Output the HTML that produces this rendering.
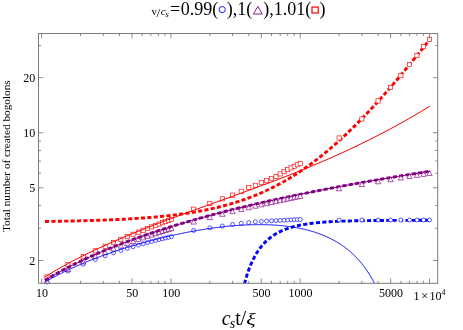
<!DOCTYPE html>
<html><head><meta charset="utf-8"><title>plot</title>
<style>
html,body{margin:0;padding:0;background:#fff;}
body{width:463px;height:330px;overflow:hidden;}
svg{display:block;will-change:transform;}
text{font-family:"Liberation Serif",serif;fill:#000;}
</style></head><body>
<svg width="463" height="330" viewBox="0 0 463 330">
<rect width="463" height="330" fill="#fff"/>
<defs><clipPath id="c"><rect x="38.5" y="33.5" width="399.2" height="249.8"/></clipPath></defs>
<g clip-path="url(#c)" fill="none">
<path d="M243.00,289.97 L243.50,287.80 L244.00,285.72 L244.50,283.74 L245.00,281.84 L245.50,280.02 L246.00,278.28 L246.50,276.61 L247.00,275.01 L247.50,273.46 L248.00,271.98 L248.50,270.55 L249.00,269.18 L249.50,267.85 L250.00,266.58 L250.50,265.34 L251.00,264.15 L251.50,263.00 L252.00,261.89 L252.50,260.82 L253.00,259.78 L253.50,258.78 L254.00,257.80 L254.50,256.86 L255.00,255.95 L255.50,255.06 L256.00,254.20 L256.50,253.37 L257.00,252.56 L257.50,251.78 L258.00,251.02 L258.50,250.28 L259.00,249.57 L259.50,248.87 L260.00,248.19 L260.50,247.53 L261.00,246.89 L261.50,246.27 L262.00,245.66 L262.50,245.08 L263.00,244.50 L263.50,243.94 L264.00,243.40 L264.50,242.87 L265.00,242.36 L265.50,241.86 L266.00,241.37 L266.50,240.89 L267.00,240.43 L267.50,239.98 L268.00,239.54 L268.50,239.11 L269.00,238.69 L269.50,238.28 L270.00,237.88 L270.50,237.49 L271.00,237.11 L271.50,236.74 L272.00,236.38 L272.50,236.03 L273.00,235.69 L273.50,235.35 L274.00,235.02 L274.50,234.70 L275.00,234.39 L275.50,234.09 L276.00,233.79 L276.50,233.50 L277.00,233.22 L277.50,232.94 L278.00,232.67 L278.50,232.40 L279.00,232.14 L279.50,231.89 L280.00,231.65 L280.50,231.40 L281.00,231.17 L281.50,230.94 L282.00,230.71 L282.50,230.49 L283.00,230.28 L283.50,230.07 L284.00,229.86 L284.50,229.66 L285.00,229.46 L285.50,229.27 L286.00,229.08 L286.50,228.90 L287.00,228.72 L287.50,228.54 L288.00,228.37 L288.50,228.20 L289.00,228.04 L289.50,227.88 L290.00,227.72 L290.50,227.57 L291.00,227.42 L291.50,227.27 L292.00,227.12 L292.50,226.98 L293.00,226.85 L293.50,226.71 L294.00,226.58 L294.50,226.45 L295.00,226.32 L295.50,226.20 L296.00,226.08 L296.50,225.96 L297.00,225.84 L297.50,225.73 L298.00,225.62 L298.50,225.51 L299.00,225.40 L299.50,225.30 L300.00,225.19 L300.50,225.09 L301.00,225.00 L301.50,224.90 L302.00,224.81 L302.50,224.71 L303.00,224.62 L303.50,224.54 L304.00,224.45 L304.50,224.36 L305.00,224.28 L305.50,224.20 L306.00,224.12 L306.50,224.04 L307.00,223.97 L307.50,223.89 L308.00,223.82 L308.50,223.75 L309.00,223.68 L309.50,223.61 L310.00,223.54 L310.50,223.48 L311.00,223.41 L311.50,223.35 L312.00,223.29 L312.50,223.23 L313.00,223.17 L313.50,223.11 L314.00,223.05 L314.50,223.00 L315.00,222.94 L315.50,222.89 L316.00,222.84 L316.50,222.78 L317.00,222.73 L317.50,222.68 L318.00,222.64 L318.50,222.59 L319.00,222.54 L319.50,222.50 L320.00,222.45 L320.50,222.41 L321.00,222.37 L321.50,222.32 L322.00,222.28 L322.50,222.24 L323.00,222.20 L323.50,222.17 L324.00,222.13 L324.50,222.09 L325.00,222.06 L325.50,222.02 L326.00,221.98 L326.50,221.95 L327.00,221.92 L327.50,221.88 L328.00,221.85 L328.50,221.82 L329.00,221.79 L329.50,221.76 L330.00,221.73 L330.50,221.70 L331.00,221.67 L331.50,221.65 L332.00,221.62 L332.50,221.59 L333.00,221.57 L333.50,221.54 L334.00,221.51 L334.50,221.49 L335.00,221.47 L335.50,221.44 L336.00,221.42 L336.50,221.40 L337.00,221.37 L337.50,221.35 L338.00,221.33 L338.50,221.31 L339.00,221.29 L339.50,221.27 L340.00,221.25 L340.50,221.23 L341.00,221.21 L341.50,221.19 L342.00,221.17 L342.50,221.16 L343.00,221.14 L343.50,221.12 L344.00,221.11 L344.50,221.09 L345.00,221.07 L345.50,221.06 L346.00,221.04 L346.50,221.03 L347.00,221.01 L347.50,221.00 L348.00,220.98 L348.50,220.97 L349.00,220.96 L349.50,220.94 L350.00,220.93 L350.50,220.92 L351.00,220.90 L351.50,220.89 L352.00,220.88 L352.50,220.87 L353.00,220.86 L353.50,220.84 L354.00,220.83 L354.50,220.82 L355.00,220.81 L355.50,220.80 L356.00,220.79 L356.50,220.78 L357.00,220.77 L357.50,220.76 L358.00,220.75 L358.50,220.74 L359.00,220.73 L359.50,220.72 L360.00,220.71 L360.50,220.71 L361.00,220.70 L361.50,220.69 L362.00,220.68 L362.50,220.67 L363.00,220.66 L363.50,220.66 L364.00,220.65 L364.50,220.64 L365.00,220.64 L365.50,220.63 L366.00,220.62 L366.50,220.61 L367.00,220.61 L367.50,220.60 L368.00,220.59 L368.50,220.59 L369.00,220.58 L369.50,220.58 L370.00,220.57 L370.50,220.56 L371.00,220.56 L371.50,220.55 L372.00,220.55 L372.50,220.54 L373.00,220.54 L373.50,220.53 L374.00,220.53 L374.50,220.52 L375.00,220.52 L375.50,220.51 L376.00,220.51 L376.50,220.50 L377.00,220.50 L377.50,220.49 L378.00,220.49 L378.50,220.49 L379.00,220.48 L379.50,220.48 L380.00,220.47 L380.50,220.47 L381.00,220.47 L381.50,220.46 L382.00,220.46 L382.50,220.46 L383.00,220.45 L383.50,220.45 L384.00,220.45 L384.50,220.44 L385.00,220.44 L385.50,220.44 L386.00,220.43 L386.50,220.43 L387.00,220.43 L387.50,220.42 L388.00,220.42 L388.50,220.42 L389.00,220.42 L389.50,220.41 L390.00,220.41 L390.50,220.41 L391.00,220.40 L391.50,220.40 L392.00,220.40 L392.50,220.40 L393.00,220.40 L393.50,220.39 L394.00,220.39 L394.50,220.39 L395.00,220.39 L395.50,220.38 L396.00,220.38 L396.50,220.38 L397.00,220.38 L397.50,220.38 L398.00,220.37 L398.50,220.37 L399.00,220.37 L399.50,220.37 L400.00,220.37 L400.50,220.36 L401.00,220.36 L401.50,220.36 L402.00,220.36 L402.50,220.36 L403.00,220.36 L403.50,220.36 L404.00,220.35 L404.50,220.35 L405.00,220.35 L405.50,220.35 L406.00,220.35 L406.50,220.35 L407.00,220.35 L407.50,220.34 L408.00,220.34 L408.50,220.34 L409.00,220.34 L409.50,220.34 L410.00,220.34 L410.50,220.34 L411.00,220.34 L411.50,220.33 L412.00,220.33 L412.50,220.33 L413.00,220.33 L413.50,220.33 L414.00,220.33 L414.50,220.33 L415.00,220.33 L415.50,220.33 L416.00,220.33 L416.50,220.32 L417.00,220.32 L417.50,220.32 L418.00,220.32 L418.50,220.32 L419.00,220.32 L419.50,220.32 L420.00,220.32 L420.50,220.32 L421.00,220.32 L421.50,220.32 L422.00,220.32 L422.50,220.31 L423.00,220.31 L423.50,220.31 L424.00,220.31 L424.50,220.31 L425.00,220.31 L425.50,220.31 L426.00,220.31 L426.50,220.31 L427.00,220.31 L427.50,220.31 L428.00,220.31 L428.50,220.31 L429.00,220.31 L429.50,220.31 L430.00,220.31" stroke="#0000ff" stroke-width="2.9" stroke-dasharray="4.1 2.3"/>
<path d="M45.00,221.46 L46.00,221.45 L47.00,221.43 L48.00,221.42 L49.00,221.41 L50.00,221.39 L51.00,221.38 L52.00,221.36 L53.00,221.35 L54.00,221.33 L55.00,221.32 L56.00,221.30 L57.00,221.28 L58.00,221.27 L59.00,221.25 L60.00,221.23 L61.00,221.22 L62.00,221.20 L63.00,221.18 L64.00,221.16 L65.00,221.14 L66.00,221.12 L67.00,221.10 L68.00,221.08 L69.00,221.06 L70.00,221.04 L71.00,221.02 L72.00,221.00 L73.00,220.98 L74.00,220.96 L75.00,220.94 L76.00,220.91 L77.00,220.89 L78.00,220.87 L79.00,220.84 L80.00,220.82 L81.00,220.79 L82.00,220.77 L83.00,220.74 L84.00,220.71 L85.00,220.69 L86.00,220.66 L87.00,220.63 L88.00,220.61 L89.00,220.58 L90.00,220.55 L91.00,220.52 L92.00,220.49 L93.00,220.46 L94.00,220.43 L95.00,220.39 L96.00,220.36 L97.00,220.33 L98.00,220.30 L99.00,220.26 L100.00,220.23 L101.00,220.19 L102.00,220.16 L103.00,220.12 L104.00,220.08 L105.00,220.04 L106.00,220.01 L107.00,219.97 L108.00,219.93 L109.00,219.89 L110.00,219.85 L111.00,219.80 L112.00,219.76 L113.00,219.72 L114.00,219.67 L115.00,219.63 L116.00,219.58 L117.00,219.54 L118.00,219.49 L119.00,219.44 L120.00,219.39 L121.00,219.34 L122.00,219.29 L123.00,219.24 L124.00,219.19 L125.00,219.14 L126.00,219.08 L127.00,219.03 L128.00,218.97 L129.00,218.91 L130.00,218.85 L131.00,218.80 L132.00,218.74 L133.00,218.67 L134.00,218.61 L135.00,218.55 L136.00,218.48 L137.00,218.42 L138.00,218.35 L139.00,218.28 L140.00,218.22 L141.00,218.15 L142.00,218.07 L143.00,218.00 L144.00,217.93 L145.00,217.85 L146.00,217.78 L147.00,217.70 L148.00,217.62 L149.00,217.54 L150.00,217.46 L151.00,217.38 L152.00,217.29 L153.00,217.21 L154.00,217.12 L155.00,217.03 L156.00,216.94 L157.00,216.85 L158.00,216.76 L159.00,216.66 L160.00,216.57 L161.00,216.47 L162.00,216.37 L163.00,216.27 L164.00,216.16 L165.00,216.06 L166.00,215.95 L167.00,215.85 L168.00,215.74 L169.00,215.62 L170.00,215.51 L171.00,215.39 L172.00,215.28 L173.00,215.16 L174.00,215.04 L175.00,214.91 L176.00,214.79 L177.00,214.66 L178.00,214.53 L179.00,214.40 L180.00,214.27 L181.00,214.13 L182.00,213.99 L183.00,213.85 L184.00,213.71 L185.00,213.57 L186.00,213.42 L187.00,213.27 L188.00,213.12 L189.00,212.96 L190.00,212.81 L191.00,212.65 L192.00,212.49 L193.00,212.32 L194.00,212.15 L195.00,211.98 L196.00,211.81 L197.00,211.64 L198.00,211.46 L199.00,211.28 L200.00,211.10 L201.00,210.91 L202.00,210.72 L203.00,210.53 L204.00,210.33 L205.00,210.14 L206.00,209.93 L207.00,209.73 L208.00,209.52 L209.00,209.31 L210.00,209.10 L211.00,208.88 L212.00,208.66 L213.00,208.44 L214.00,208.21 L215.00,207.98 L216.00,207.75 L217.00,207.51 L218.00,207.27 L219.00,207.03 L220.00,206.78 L221.00,206.53 L222.00,206.27 L223.00,206.01 L224.00,205.75 L225.00,205.48 L226.00,205.21 L227.00,204.94 L228.00,204.66 L229.00,204.38 L230.00,204.09 L231.00,203.80 L232.00,203.50 L233.00,203.21 L234.00,202.90 L235.00,202.59 L236.00,202.28 L237.00,201.97 L238.00,201.65 L239.00,201.32 L240.00,200.99 L241.00,200.66 L242.00,200.32 L243.00,199.98 L244.00,199.63 L245.00,199.28 L246.00,198.92 L247.00,198.56 L248.00,198.19 L249.00,197.82 L250.00,197.44 L251.00,197.06 L252.00,196.68 L253.00,196.28 L254.00,195.89 L255.00,195.49 L256.00,195.08 L257.00,194.67 L258.00,194.25 L259.00,193.83 L260.00,193.40 L261.00,192.97 L262.00,192.53 L263.00,192.09 L264.00,191.64 L265.00,191.18 L266.00,190.72 L267.00,190.26 L268.00,189.78 L269.00,189.31 L270.00,188.82 L271.00,188.34 L272.00,187.84 L273.00,187.34 L274.00,186.84 L275.00,186.33 L276.00,185.81 L277.00,185.29 L278.00,184.76 L279.00,184.22 L280.00,183.68 L281.00,183.14 L282.00,182.58 L283.00,182.02 L284.00,181.46 L285.00,180.89 L286.00,180.31 L287.00,179.73 L288.00,179.14 L289.00,178.55 L290.00,177.94 L291.00,177.34 L292.00,176.72 L293.00,176.10 L294.00,175.48 L295.00,174.85 L296.00,174.21 L297.00,173.56 L298.00,172.91 L299.00,172.25 L300.00,171.59 L301.00,170.92 L302.00,170.25 L303.00,169.56 L304.00,168.87 L305.00,168.18 L306.00,167.48 L307.00,166.77 L308.00,166.06 L309.00,165.34 L310.00,164.61 L311.00,163.88 L312.00,163.14 L313.00,162.39 L314.00,161.64 L315.00,160.89 L316.00,160.12 L317.00,159.35 L318.00,158.58 L319.00,157.79 L320.00,157.00 L321.00,156.21 L322.00,155.41 L323.00,154.60 L324.00,153.79 L325.00,152.97 L326.00,152.14 L327.00,151.31 L328.00,150.47 L329.00,149.63 L330.00,148.78 L331.00,147.92 L332.00,147.06 L333.00,146.19 L334.00,145.32 L335.00,144.44 L336.00,143.55 L337.00,142.66 L338.00,141.76 L339.00,140.86 L340.00,139.95 L341.00,139.03 L342.00,138.11 L343.00,137.19 L344.00,136.25 L345.00,135.32 L346.00,134.37 L347.00,133.42 L348.00,132.47 L349.00,131.51 L350.00,130.54 L351.00,129.57 L352.00,128.60 L353.00,127.61 L354.00,126.63 L355.00,125.63 L356.00,124.64 L357.00,123.63 L358.00,122.63 L359.00,121.61 L360.00,120.60 L361.00,119.57 L362.00,118.54 L363.00,117.51 L364.00,116.47 L365.00,115.43 L366.00,114.38 L367.00,113.33 L368.00,112.27 L369.00,111.21 L370.00,110.14 L371.00,109.07 L372.00,107.99 L373.00,106.91 L374.00,105.83 L375.00,104.74 L376.00,103.65 L377.00,102.55 L378.00,101.44 L379.00,100.34 L380.00,99.23 L381.00,98.11 L382.00,96.99 L383.00,95.87 L384.00,94.74 L385.00,93.61 L386.00,92.47 L387.00,91.33 L388.00,90.19 L389.00,89.04 L390.00,87.89 L391.00,86.73 L392.00,85.57 L393.00,84.41 L394.00,83.24 L395.00,82.07 L396.00,80.90 L397.00,79.72 L398.00,78.54 L399.00,77.36 L400.00,76.17 L401.00,74.98 L402.00,73.79 L403.00,72.59 L404.00,71.39 L405.00,70.18 L406.00,68.98 L407.00,67.77 L408.00,66.55 L409.00,65.34 L410.00,64.12 L411.00,62.90 L412.00,61.67 L413.00,60.44 L414.00,59.21 L415.00,57.98 L416.00,56.74 L417.00,55.50 L418.00,54.26 L419.00,53.02 L420.00,51.77 L421.00,50.52 L422.00,49.27 L423.00,48.01 L424.00,46.75 L425.00,45.49 L426.00,44.23 L427.00,42.97 L428.00,41.70 L429.00,40.43" stroke="#ff0000" stroke-width="2.9" stroke-dasharray="4.1 2.3"/>
</g>
<g fill="#fff" stroke-width="0.65">
<g stroke="#0000ff"><circle cx="46.95" cy="281.97" r="2.0"/><circle cx="67.99" cy="271.03" r="2.0"/><circle cx="83.26" cy="264.21" r="2.0"/><circle cx="95.26" cy="259.40" r="2.0"/><circle cx="105.13" cy="255.75" r="2.0"/><circle cx="113.53" cy="252.84" r="2.0"/><circle cx="120.83" cy="250.44" r="2.0"/><circle cx="127.29" cy="248.41" r="2.0"/><circle cx="133.09" cy="246.67" r="2.0"/><circle cx="138.34" cy="245.13" r="2.0"/><circle cx="143.14" cy="243.78" r="2.0"/><circle cx="147.57" cy="242.56" r="2.0"/><circle cx="151.67" cy="241.47" r="2.0"/><circle cx="155.49" cy="240.48" r="2.0"/><circle cx="159.07" cy="239.57" r="2.0"/><circle cx="162.43" cy="238.74" r="2.0"/><circle cx="165.60" cy="237.98" r="2.0"/><circle cx="168.61" cy="237.27" r="2.0"/><circle cx="171.46" cy="236.62" r="2.0"/><circle cx="193.67" cy="230.40" r="2.0"/><circle cx="209.82" cy="227.80" r="2.0"/><circle cx="222.35" cy="226.00" r="2.0"/><circle cx="232.59" cy="224.40" r="2.0"/><circle cx="241.25" cy="223.30" r="2.0"/><circle cx="248.75" cy="222.50" r="2.0"/><circle cx="255.36" cy="221.80" r="2.0"/><circle cx="261.28" cy="221.40" r="2.0"/><circle cx="266.63" cy="221.10" r="2.0"/><circle cx="271.51" cy="220.80" r="2.0"/><circle cx="276.01" cy="220.60" r="2.0"/><circle cx="280.17" cy="220.40" r="2.0"/><circle cx="284.05" cy="220.20" r="2.0"/><circle cx="287.67" cy="220.00" r="2.0"/><circle cx="291.07" cy="219.90" r="2.0"/><circle cx="294.28" cy="219.70" r="2.0"/><circle cx="297.32" cy="219.60" r="2.0"/><circle cx="300.20" cy="219.50" r="2.0"/><circle cx="339.12" cy="220.00" r="2.0"/><circle cx="361.89" cy="220.00" r="2.0"/><circle cx="378.05" cy="220.00" r="2.0"/><circle cx="390.58" cy="220.00" r="2.0"/><circle cx="400.81" cy="220.00" r="2.0"/><circle cx="409.47" cy="220.00" r="2.0"/><circle cx="416.97" cy="220.00" r="2.0"/><circle cx="423.58" cy="220.00" r="2.0"/><circle cx="429.50" cy="220.00" r="2.0"/></g>
<g stroke="#ff0000"><rect x="44.85" y="274.96" width="4.2" height="4.2"/><rect x="65.89" y="262.66" width="4.2" height="4.2"/><rect x="81.16" y="254.64" width="4.2" height="4.2"/><rect x="93.16" y="248.77" width="4.2" height="4.2"/><rect x="103.03" y="244.19" width="4.2" height="4.2"/><rect x="111.43" y="240.45" width="4.2" height="4.2"/><rect x="118.73" y="237.29" width="4.2" height="4.2"/><rect x="125.19" y="234.57" width="4.2" height="4.2"/><rect x="130.99" y="232.18" width="4.2" height="4.2"/><rect x="136.24" y="230.05" width="4.2" height="4.2"/><rect x="141.04" y="228.14" width="4.2" height="4.2"/><rect x="145.47" y="226.39" width="4.2" height="4.2"/><rect x="149.57" y="224.79" width="4.2" height="4.2"/><rect x="153.39" y="223.31" width="4.2" height="4.2"/><rect x="156.97" y="221.94" width="4.2" height="4.2"/><rect x="160.33" y="220.66" width="4.2" height="4.2"/><rect x="163.50" y="219.46" width="4.2" height="4.2"/><rect x="166.51" y="218.33" width="4.2" height="4.2"/><rect x="169.36" y="217.27" width="4.2" height="4.2"/><rect x="191.57" y="207.10" width="4.2" height="4.2"/><rect x="207.72" y="201.26" width="4.2" height="4.2"/><rect x="220.25" y="196.74" width="4.2" height="4.2"/><rect x="230.49" y="193.05" width="4.2" height="4.2"/><rect x="239.15" y="189.20" width="4.2" height="4.2"/><rect x="246.65" y="185.40" width="4.2" height="4.2"/><rect x="253.26" y="183.20" width="4.2" height="4.2"/><rect x="259.18" y="180.40" width="4.2" height="4.2"/><rect x="264.53" y="178.60" width="4.2" height="4.2"/><rect x="269.41" y="176.40" width="4.2" height="4.2"/><rect x="273.91" y="174.40" width="4.2" height="4.2"/><rect x="278.07" y="171.80" width="4.2" height="4.2"/><rect x="281.95" y="169.50" width="4.2" height="4.2"/><rect x="285.57" y="167.50" width="4.2" height="4.2"/><rect x="288.97" y="165.80" width="4.2" height="4.2"/><rect x="292.18" y="164.20" width="4.2" height="4.2"/><rect x="295.22" y="162.70" width="4.2" height="4.2"/><rect x="298.10" y="161.30" width="4.2" height="4.2"/><rect x="337.02" y="135.90" width="4.2" height="4.2"/><rect x="359.79" y="116.80" width="4.2" height="4.2"/><rect x="375.95" y="98.80" width="4.2" height="4.2"/><rect x="388.48" y="85.40" width="4.2" height="4.2"/><rect x="398.71" y="73.60" width="4.2" height="4.2"/><rect x="407.37" y="62.40" width="4.2" height="4.2"/><rect x="414.87" y="53.50" width="4.2" height="4.2"/><rect x="421.48" y="44.60" width="4.2" height="4.2"/><rect x="427.40" y="37.20" width="4.2" height="4.2"/></g>
</g>
<g fill="#fff" stroke-width="0.65" stroke="#800080"><path d="M44.25,283.27 L49.65,283.27 L46.95,278.47 Z"/><path d="M65.29,271.56 L70.69,271.56 L67.99,266.76 Z"/><path d="M80.56,264.03 L85.96,264.03 L83.26,259.23 Z"/><path d="M92.56,258.58 L97.96,258.58 L95.26,253.78 Z"/><path d="M102.43,254.36 L107.83,254.36 L105.13,249.56 Z"/><path d="M110.83,250.93 L116.23,250.93 L113.53,246.13 Z"/><path d="M118.13,248.07 L123.53,248.07 L120.83,243.27 Z"/><path d="M124.59,245.62 L129.99,245.62 L127.29,240.82 Z"/><path d="M130.39,243.49 L135.79,243.49 L133.09,238.69 Z"/><path d="M135.64,241.61 L141.04,241.61 L138.34,236.81 Z"/><path d="M140.44,239.92 L145.84,239.92 L143.14,235.12 Z"/><path d="M144.87,238.40 L150.27,238.40 L147.57,233.60 Z"/><path d="M148.97,237.01 L154.37,237.01 L151.67,232.21 Z"/><path d="M152.79,235.74 L158.19,235.74 L155.49,230.94 Z"/><path d="M156.37,234.57 L161.77,234.57 L159.07,229.77 Z"/><path d="M159.73,233.49 L165.13,233.49 L162.43,228.69 Z"/><path d="M162.90,232.48 L168.30,232.48 L165.60,227.68 Z"/><path d="M165.91,231.54 L171.31,231.54 L168.61,226.74 Z"/><path d="M168.76,230.65 L174.16,230.65 L171.46,225.85 Z"/></g>
<g clip-path="url(#c)" fill="none">
<path d="M45.00,280.35 L46.00,279.74 L47.00,279.14 L48.00,278.54 L49.00,277.95 L50.00,277.36 L51.00,276.78 L52.00,276.20 L53.00,275.62 L54.00,275.05 L55.00,274.48 L56.00,273.92 L57.00,273.36 L58.00,272.81 L59.00,272.25 L60.00,271.71 L61.00,271.16 L62.00,270.62 L63.00,270.09 L64.00,269.55 L65.00,269.02 L66.00,268.50 L67.00,267.98 L68.00,267.46 L69.00,266.94 L70.00,266.43 L71.00,265.92 L72.00,265.41 L73.00,264.91 L74.00,264.41 L75.00,263.92 L76.00,263.42 L77.00,262.93 L78.00,262.45 L79.00,261.96 L80.00,261.48 L81.00,261.00 L82.00,260.53 L83.00,260.05 L84.00,259.58 L85.00,259.12 L86.00,258.65 L87.00,258.19 L88.00,257.73 L89.00,257.28 L90.00,256.82 L91.00,256.37 L92.00,255.92 L93.00,255.48 L94.00,255.03 L95.00,254.59 L96.00,254.15 L97.00,253.72 L98.00,253.28 L99.00,252.85 L100.00,252.42 L101.00,252.00 L102.00,251.57 L103.00,251.15 L104.00,250.73 L105.00,250.31 L106.00,249.90 L107.00,249.48 L108.00,249.07 L109.00,248.66 L110.00,248.25 L111.00,247.85 L112.00,247.45 L113.00,247.04 L114.00,246.65 L115.00,246.25 L116.00,245.85 L117.00,245.46 L118.00,245.07 L119.00,244.68 L120.00,244.29 L121.00,243.91 L122.00,243.52 L123.00,243.14 L124.00,242.76 L125.00,242.38 L126.00,242.01 L127.00,241.63 L128.00,241.26 L129.00,240.89 L130.00,240.52 L131.00,240.15 L132.00,239.79 L133.00,239.42 L134.00,239.06 L135.00,238.70 L136.00,238.34 L137.00,237.98 L138.00,237.63 L139.00,237.27 L140.00,236.92 L141.00,236.57 L142.00,236.22 L143.00,235.87 L144.00,235.52 L145.00,235.18 L146.00,234.83 L147.00,234.49 L148.00,234.15 L149.00,233.81 L150.00,233.47 L151.00,233.14 L152.00,232.80 L153.00,232.47 L154.00,232.14 L155.00,231.81 L156.00,231.48 L157.00,231.15 L158.00,230.82 L159.00,230.50 L160.00,230.17 L161.00,229.85 L162.00,229.53 L163.00,229.21 L164.00,228.89 L165.00,228.57 L166.00,228.26 L167.00,227.94 L168.00,227.63 L169.00,227.31 L170.00,227.00 L171.00,226.69 L172.00,226.38 L173.00,226.08 L174.00,225.77 L175.00,225.46 L176.00,225.16 L177.00,224.86 L178.00,224.55 L179.00,224.25 L180.00,223.95 L181.00,223.66 L182.00,223.36 L183.00,223.06 L184.00,222.77 L185.00,222.47 L186.00,222.18 L187.00,221.89 L188.00,221.60 L189.00,221.31 L190.00,221.02 L191.00,220.73 L192.00,220.44 L193.00,220.16 L194.00,219.87 L195.00,219.59 L196.00,219.31 L197.00,219.03 L198.00,218.75 L199.00,218.47 L200.00,218.19 L201.00,217.91 L202.00,217.63 L203.00,217.36 L204.00,217.08 L205.00,216.81 L206.00,216.54 L207.00,216.26 L208.00,215.99 L209.00,215.72 L210.00,215.45 L211.00,215.19 L212.00,214.92 L213.00,214.65 L214.00,214.39 L215.00,214.12 L216.00,213.86 L217.00,213.60 L218.00,213.33 L219.00,213.07 L220.00,212.81 L221.00,212.55 L222.00,212.29 L223.00,212.04 L224.00,211.78 L225.00,211.52 L226.00,211.27 L227.00,211.01 L228.00,210.76 L229.00,210.51 L230.00,210.25 L231.00,210.00 L232.00,209.75 L233.00,209.50 L234.00,209.25 L235.00,209.01 L236.00,208.76 L237.00,208.51 L238.00,208.27 L239.00,208.02 L240.00,207.78 L241.00,207.53 L242.00,207.29 L243.00,207.05 L244.00,206.81 L245.00,206.57 L246.00,206.33 L247.00,206.09 L248.00,205.85 L249.00,205.61 L250.00,205.38 L251.00,205.14 L252.00,204.90 L253.00,204.67 L254.00,204.43 L255.00,204.20 L256.00,203.97 L257.00,203.74 L258.00,203.50 L259.00,203.27 L260.00,203.04 L261.00,202.81 L262.00,202.58 L263.00,202.36 L264.00,202.13 L265.00,201.90 L266.00,201.68 L267.00,201.45 L268.00,201.23 L269.00,201.00 L270.00,200.78 L271.00,200.55 L272.00,200.33 L273.00,200.11 L274.00,199.89 L275.00,199.67 L276.00,199.45 L277.00,199.23 L278.00,199.01 L279.00,198.79 L280.00,198.58 L281.00,198.36 L282.00,198.14 L283.00,197.93 L284.00,197.71 L285.00,197.50 L286.00,197.28 L287.00,197.07 L288.00,196.86 L289.00,196.64 L290.00,196.43 L291.00,196.22 L292.00,196.01 L293.00,195.80 L294.00,195.59 L295.00,195.38 L296.00,195.17 L297.00,194.97 L298.00,194.76 L299.00,194.55 L300.00,194.35 L301.00,194.14 L302.00,193.93 L303.00,193.73 L304.00,193.53 L305.00,193.32 L306.00,193.12 L307.00,192.92 L308.00,192.71 L309.00,192.51 L310.00,192.31 L311.00,192.11 L312.00,191.91 L313.00,191.71 L314.00,191.51 L315.00,191.32 L316.00,191.12 L317.00,190.92 L318.00,190.72 L319.00,190.53 L320.00,190.33 L321.00,190.13 L322.00,189.94 L323.00,189.74 L324.00,189.55 L325.00,189.36 L326.00,189.16 L327.00,188.97 L328.00,188.78 L329.00,188.59 L330.00,188.40 L331.00,188.20 L332.00,188.01 L333.00,187.82 L334.00,187.64 L335.00,187.45 L336.00,187.26 L337.00,187.07 L338.00,186.88 L339.00,186.69 L340.00,186.51 L341.00,186.32 L342.00,186.14 L343.00,185.95 L344.00,185.76 L345.00,185.58 L346.00,185.40 L347.00,185.21 L348.00,185.03 L349.00,184.85 L350.00,184.66 L351.00,184.48 L352.00,184.30 L353.00,184.12 L354.00,183.94 L355.00,183.76 L356.00,183.58 L357.00,183.40 L358.00,183.22 L359.00,183.04 L360.00,182.86 L361.00,182.68 L362.00,182.51 L363.00,182.33 L364.00,182.15 L365.00,181.97 L366.00,181.80 L367.00,181.62 L368.00,181.45 L369.00,181.27 L370.00,181.10 L371.00,180.92 L372.00,180.75 L373.00,180.58 L374.00,180.40 L375.00,180.23 L376.00,180.06 L377.00,179.89 L378.00,179.72 L379.00,179.55 L380.00,179.37 L381.00,179.20 L382.00,179.03 L383.00,178.86 L384.00,178.70 L385.00,178.53 L386.00,178.36 L387.00,178.19 L388.00,178.02 L389.00,177.85 L390.00,177.69 L391.00,177.52 L392.00,177.35 L393.00,177.19 L394.00,177.02 L395.00,176.86 L396.00,176.69 L397.00,176.53 L398.00,176.36 L399.00,176.20 L400.00,176.03 L401.00,175.87 L402.00,175.71 L403.00,175.55 L404.00,175.38 L405.00,175.22 L406.00,175.06 L407.00,174.90 L408.00,174.74 L409.00,174.58 L410.00,174.42 L411.00,174.26 L412.00,174.10 L413.00,173.94 L414.00,173.78 L415.00,173.62 L416.00,173.46 L417.00,173.30 L418.00,173.14 L419.00,172.99 L420.00,172.83 L421.00,172.67 L422.00,172.52 L423.00,172.36 L424.00,172.20 L425.00,172.05 L426.00,171.89 L427.00,171.74 L428.00,171.58 L429.00,171.43 L430.00,171.27" stroke="#800080" stroke-width="2.9" stroke-dasharray="4.1 2.3"/>
</g>
<g fill="#fff" stroke-width="0.65" stroke="#800080"><path d="M190.97,224.07 L196.37,224.07 L193.67,219.27 Z"/><path d="M207.12,219.60 L212.52,219.60 L209.82,214.80 Z"/><path d="M219.65,216.30 L225.05,216.30 L222.35,211.50 Z"/><path d="M229.89,213.71 L235.29,213.71 L232.59,208.91 Z"/><path d="M238.55,211.57 L243.95,211.57 L241.25,206.77 Z"/><path d="M246.05,209.77 L251.45,209.77 L248.75,204.97 Z"/><path d="M252.66,208.22 L258.06,208.22 L255.36,203.42 Z"/><path d="M258.58,206.85 L263.98,206.85 L261.28,202.05 Z"/><path d="M263.93,205.63 L269.33,205.63 L266.63,200.83 Z"/><path d="M268.81,204.54 L274.21,204.54 L271.51,199.74 Z"/><path d="M273.31,203.55 L278.71,203.55 L276.01,198.75 Z"/><path d="M277.47,202.64 L282.87,202.64 L280.17,197.84 Z"/><path d="M281.35,201.80 L286.75,201.80 L284.05,197.00 Z"/><path d="M284.97,201.03 L290.37,201.03 L287.67,196.23 Z"/><path d="M288.37,200.31 L293.77,200.31 L291.07,195.51 Z"/><path d="M291.58,199.63 L296.98,199.63 L294.28,194.83 Z"/><path d="M294.62,199.00 L300.02,199.00 L297.32,194.20 Z"/><path d="M297.50,198.40 L302.90,198.40 L300.20,193.60 Z"/><path d="M336.42,190.77 L341.82,190.77 L339.12,185.97 Z"/><path d="M359.19,186.62 L364.59,186.62 L361.89,181.82 Z"/><path d="M375.35,183.81 L380.75,183.81 L378.05,179.01 Z"/><path d="M387.88,181.69 L393.28,181.69 L390.58,176.89 Z"/><path d="M398.11,180.00 L403.51,180.00 L400.81,175.20 Z"/><path d="M406.77,178.60 L412.17,178.60 L409.47,173.80 Z"/><path d="M414.27,177.41 L419.67,177.41 L416.97,172.61 Z"/><path d="M420.88,176.37 L426.28,176.37 L423.58,171.57 Z"/><path d="M426.80,175.45 L432.20,175.45 L429.50,170.65 Z"/></g>
<g clip-path="url(#c)" fill="none">
<path d="M45.00,282.09 L45.50,281.80 L46.00,281.51 L46.50,281.22 L47.00,280.94 L47.50,280.66 L48.00,280.37 L48.50,280.09 L49.00,279.81 L49.50,279.53 L50.00,279.26 L50.50,278.98 L51.00,278.71 L51.50,278.43 L52.00,278.16 L52.50,277.89 L53.00,277.62 L53.50,277.35 L54.00,277.08 L54.50,276.82 L55.00,276.55 L55.50,276.29 L56.00,276.02 L56.50,275.76 L57.00,275.50 L57.50,275.24 L58.00,274.98 L58.50,274.72 L59.00,274.47 L59.50,274.21 L60.00,273.96 L60.50,273.70 L61.00,273.45 L61.50,273.20 L62.00,272.95 L62.50,272.70 L63.00,272.45 L63.50,272.21 L64.00,271.96 L64.50,271.72 L65.00,271.47 L65.50,271.23 L66.00,270.99 L66.50,270.75 L67.00,270.51 L67.50,270.27 L68.00,270.03 L68.50,269.79 L69.00,269.56 L69.50,269.32 L70.00,269.09 L70.50,268.85 L71.00,268.62 L71.50,268.39 L72.00,268.16 L72.50,267.93 L73.00,267.70 L73.50,267.48 L74.00,267.25 L74.50,267.02 L75.00,266.80 L75.50,266.57 L76.00,266.35 L76.50,266.13 L77.00,265.91 L77.50,265.69 L78.00,265.47 L78.50,265.25 L79.00,265.03 L79.50,264.82 L80.00,264.60 L80.50,264.39 L81.00,264.17 L81.50,263.96 L82.00,263.75 L82.50,263.53 L83.00,263.32 L83.50,263.11 L84.00,262.90 L84.50,262.69 L85.00,262.49 L85.50,262.28 L86.00,262.07 L86.50,261.87 L87.00,261.67 L87.50,261.46 L88.00,261.26 L88.50,261.06 L89.00,260.86 L89.50,260.65 L90.00,260.46 L90.50,260.26 L91.00,260.06 L91.50,259.86 L92.00,259.66 L92.50,259.47 L93.00,259.27 L93.50,259.08 L94.00,258.88 L94.50,258.69 L95.00,258.50 L95.50,258.31 L96.00,258.12 L96.50,257.93 L97.00,257.74 L97.50,257.55 L98.00,257.36 L98.50,257.17 L99.00,256.99 L99.50,256.80 L100.00,256.61 L100.50,256.43 L101.00,256.25 L101.50,256.06 L102.00,255.88 L102.50,255.70 L103.00,255.52 L103.50,255.34 L104.00,255.16 L104.50,254.98 L105.00,254.80 L105.50,254.62 L106.00,254.44 L106.50,254.26 L107.00,254.09 L107.50,253.91 L108.00,253.74 L108.50,253.56 L109.00,253.39 L109.50,253.22 L110.00,253.04 L110.50,252.87 L111.00,252.70 L111.50,252.53 L112.00,252.36 L112.50,252.19 L113.00,252.02 L113.50,251.85 L114.00,251.68 L114.50,251.52 L115.00,251.35 L115.50,251.18 L116.00,251.02 L116.50,250.85 L117.00,250.69 L117.50,250.52 L118.00,250.36 L118.50,250.20 L119.00,250.03 L119.50,249.87 L120.00,249.71 L120.50,249.55 L121.00,249.39 L121.50,249.23 L122.00,249.07 L122.50,248.91 L123.00,248.75 L123.50,248.60 L124.00,248.44 L124.50,248.28 L125.00,248.13 L125.50,247.97 L126.00,247.81 L126.50,247.66 L127.00,247.51 L127.50,247.35 L128.00,247.20 L128.50,247.05 L129.00,246.89 L129.50,246.74 L130.00,246.59 L130.50,246.44 L131.00,246.29 L131.50,246.14 L132.00,245.99 L132.50,245.84 L133.00,245.69 L133.50,245.54 L134.00,245.40 L134.50,245.25 L135.00,245.10 L135.50,244.96 L136.00,244.81 L136.50,244.67 L137.00,244.52 L137.50,244.38 L138.00,244.23 L138.50,244.09 L139.00,243.95 L139.50,243.80 L140.00,243.66 L140.50,243.52 L141.00,243.38 L141.50,243.24 L142.00,243.10 L142.50,242.96 L143.00,242.82 L143.50,242.68 L144.00,242.54 L144.50,242.40 L145.00,242.26 L145.50,242.13 L146.00,241.99 L146.50,241.85 L147.00,241.72 L147.50,241.58 L148.00,241.45 L148.50,241.31 L149.00,241.18 L149.50,241.04 L150.00,240.91 L150.50,240.78 L151.00,240.65 L151.50,240.51 L152.00,240.38 L152.50,240.25 L153.00,240.12 L153.50,239.99 L154.00,239.86 L154.50,239.73 L155.00,239.60 L155.50,239.48 L156.00,239.35 L156.50,239.22 L157.00,239.09 L157.50,238.97 L158.00,238.84 L158.50,238.71 L159.00,238.59 L159.50,238.47 L160.00,238.34 L160.50,238.22 L161.00,238.09 L161.50,237.97 L162.00,237.85 L162.50,237.73 L163.00,237.60 L163.50,237.48 L164.00,237.36 L164.50,237.24 L165.00,237.12 L165.50,237.00 L166.00,236.89 L166.50,236.77 L167.00,236.65 L167.50,236.53 L168.00,236.42 L168.50,236.30 L169.00,236.18 L169.50,236.07 L170.00,235.95 L170.50,235.84 L171.00,235.72 L171.50,235.61 L172.00,235.50 L172.50,235.39 L173.00,235.27 L173.50,235.16 L174.00,235.05 L174.50,234.94 L175.00,234.83 L175.50,234.72 L176.00,234.61 L176.50,234.50 L177.00,234.40 L177.50,234.29 L178.00,234.18 L178.50,234.07 L179.00,233.97 L179.50,233.86 L180.00,233.76 L180.50,233.65 L181.00,233.55 L181.50,233.45 L182.00,233.34 L182.50,233.24 L183.00,233.14 L183.50,233.04 L184.00,232.94 L184.50,232.84 L185.00,232.74 L185.50,232.64 L186.00,232.54 L186.50,232.44 L187.00,232.34 L187.50,232.25 L188.00,232.15 L188.50,232.05 L189.00,231.96 L189.50,231.86 L190.00,231.77 L190.50,231.67 L191.00,231.58 L191.50,231.49 L192.00,231.39 L192.50,231.30 L193.00,231.21 L193.50,231.12 L194.00,231.03 L194.50,230.94 L195.00,230.85 L195.50,230.76 L196.00,230.67 L196.50,230.59 L197.00,230.50 L197.50,230.41 L198.00,230.33 L198.50,230.24 L199.00,230.16 L199.50,230.07 L200.00,229.99 L200.50,229.91 L201.00,229.82 L201.50,229.74 L202.00,229.66 L202.50,229.58 L203.00,229.50 L203.50,229.42 L204.00,229.34 L204.50,229.26 L205.00,229.18 L205.50,229.11 L206.00,229.03 L206.50,228.95 L207.00,228.88 L207.50,228.80 L208.00,228.73 L208.50,228.66 L209.00,228.58 L209.50,228.51 L210.00,228.44 L210.50,228.37 L211.00,228.29 L211.50,228.22 L212.00,228.15 L212.50,228.09 L213.00,228.02 L213.50,227.95 L214.00,227.88 L214.50,227.82 L215.00,227.75 L215.50,227.68 L216.00,227.62 L216.50,227.55 L217.00,227.49 L217.50,227.43 L218.00,227.37 L218.50,227.30 L219.00,227.24 L219.50,227.18 L220.00,227.12 L220.50,227.06 L221.00,227.01 L221.50,226.95 L222.00,226.89 L222.50,226.83 L223.00,226.78 L223.50,226.72 L224.00,226.67 L224.50,226.61 L225.00,226.56 L225.50,226.51 L226.00,226.45 L226.50,226.40 L227.00,226.35 L227.50,226.30 L228.00,226.25 L228.50,226.20 L229.00,226.16 L229.50,226.11 L230.00,226.06 L230.50,226.02 L231.00,225.97 L231.50,225.93 L232.00,225.88 L232.50,225.84 L233.00,225.80 L233.50,225.75 L234.00,225.71 L234.50,225.67 L235.00,225.63 L235.50,225.59 L236.00,225.56 L236.50,225.52 L237.00,225.48 L237.50,225.44 L238.00,225.41 L238.50,225.37 L239.00,225.34 L239.50,225.31 L240.00,225.28 L240.50,225.24 L241.00,225.21 L241.50,225.18 L242.00,225.15 L242.50,225.12 L243.00,225.10 L243.50,225.07 L244.00,225.04 L244.50,225.02 L245.00,224.99 L245.50,224.97 L246.00,224.94 L246.50,224.92 L247.00,224.90 L247.50,224.88 L248.00,224.86 L248.50,224.84 L249.00,224.82 L249.50,224.80 L250.00,224.79 L250.50,224.77 L251.00,224.76 L251.50,224.74 L252.00,224.73 L252.50,224.72 L253.00,224.70 L253.50,224.69 L254.00,224.68 L254.50,224.67 L255.00,224.67 L255.50,224.66 L256.00,224.65 L256.50,224.65 L257.00,224.64 L257.50,224.64 L258.00,224.64 L258.50,224.63 L259.00,224.63 L259.50,224.63 L260.00,224.63 L260.50,224.63 L261.00,224.64 L261.50,224.64 L262.00,224.64 L262.50,224.65 L263.00,224.66 L263.50,224.66 L264.00,224.67 L264.50,224.68 L265.00,224.69 L265.50,224.70 L266.00,224.72 L266.50,224.73 L267.00,224.74 L267.50,224.76 L268.00,224.78 L268.50,224.79 L269.00,224.81 L269.50,224.83 L270.00,224.85 L270.50,224.87 L271.00,224.90 L271.50,224.92 L272.00,224.94 L272.50,224.97 L273.00,225.00 L273.50,225.02 L274.00,225.05 L274.50,225.08 L275.00,225.12 L275.50,225.15 L276.00,225.18 L276.50,225.22 L277.00,225.25 L277.50,225.29 L278.00,225.33 L278.50,225.37 L279.00,225.41 L279.50,225.45 L280.00,225.49 L280.50,225.54 L281.00,225.59 L281.50,225.63 L282.00,225.68 L282.50,225.73 L283.00,225.78 L283.50,225.83 L284.00,225.89 L284.50,225.94 L285.00,226.00 L285.50,226.05 L286.00,226.11 L286.50,226.17 L287.00,226.23 L287.50,226.30 L288.00,226.36 L288.50,226.43 L289.00,226.49 L289.50,226.56 L290.00,226.63 L290.50,226.70 L291.00,226.78 L291.50,226.85 L292.00,226.93 L292.50,227.00 L293.00,227.08 L293.50,227.16 L294.00,227.24 L294.50,227.33 L295.00,227.41 L295.50,227.50 L296.00,227.58 L296.50,227.67 L297.00,227.77 L297.50,227.86 L298.00,227.95 L298.50,228.05 L299.00,228.15 L299.50,228.25 L300.00,228.35 L300.50,228.45 L301.00,228.55 L301.50,228.66 L302.00,228.77 L302.50,228.88 L303.00,228.99 L303.50,229.10 L304.00,229.22 L304.50,229.34 L305.00,229.46 L305.50,229.58 L306.00,229.70 L306.50,229.82 L307.00,229.95 L307.50,230.08 L308.00,230.21 L308.50,230.34 L309.00,230.48 L309.50,230.62 L310.00,230.76 L310.50,230.90 L311.00,231.04 L311.50,231.19 L312.00,231.33 L312.50,231.48 L313.00,231.63 L313.50,231.79 L314.00,231.95 L314.50,232.10 L315.00,232.27 L315.50,232.43 L316.00,232.59 L316.50,232.76 L317.00,232.93 L317.50,233.11 L318.00,233.28 L318.50,233.46 L319.00,233.64 L319.50,233.82 L320.00,234.01 L320.50,234.20 L321.00,234.39 L321.50,234.58 L322.00,234.78 L322.50,234.98 L323.00,235.18 L323.50,235.39 L324.00,235.59 L324.50,235.80 L325.00,236.02 L325.50,236.23 L326.00,236.45 L326.50,236.68 L327.00,236.90 L327.50,237.13 L328.00,237.36 L328.50,237.60 L329.00,237.84 L329.50,238.08 L330.00,238.32 L330.50,238.57 L331.00,238.82 L331.50,239.08 L332.00,239.34 L332.50,239.60 L333.00,239.86 L333.50,240.13 L334.00,240.41 L334.50,240.68 L335.00,240.97 L335.50,241.25 L336.00,241.54 L336.50,241.83 L337.00,242.13 L337.50,242.43 L338.00,242.73 L338.50,243.04 L339.00,243.36 L339.50,243.67 L340.00,244.00 L340.50,244.32 L341.00,244.66 L341.50,244.99 L342.00,245.33 L342.50,245.68 L343.00,246.03 L343.50,246.38 L344.00,246.74 L344.50,247.11 L345.00,247.48 L345.50,247.86 L346.00,248.24 L346.50,248.62 L347.00,249.02 L347.50,249.41 L348.00,249.82 L348.50,250.23 L349.00,250.64 L349.50,251.06 L350.00,251.49 L350.50,251.93 L351.00,252.37 L351.50,252.81 L352.00,253.27 L352.50,253.73 L353.00,254.19 L353.50,254.67 L354.00,255.15 L354.50,255.64 L355.00,256.13 L355.50,256.64 L356.00,257.15 L356.50,257.67 L357.00,258.19 L357.50,258.73 L358.00,259.27 L358.50,259.83 L359.00,260.39 L359.50,260.96 L360.00,261.54 L360.50,262.12 L361.00,262.72 L361.50,263.33 L362.00,263.95 L362.50,264.58 L363.00,265.22 L363.50,265.86 L364.00,266.52 L364.50,267.20 L365.00,267.88 L365.50,268.57 L366.00,269.28 L366.50,270.00 L367.00,270.73 L367.50,271.48 L368.00,272.24 L368.50,273.01 L369.00,273.79 L369.50,274.59 L370.00,275.41 L370.50,276.24 L371.00,277.09 L371.50,277.95 L372.00,278.83 L372.50,279.73 L373.00,280.64 L373.50,281.58 L374.00,282.53 L374.50,283.50 L375.00,284.49 L375.50,285.50 L376.00,286.54 L376.50,287.59 L377.00,288.67 L377.50,289.77 L378.00,290.90" stroke="#0000ff" stroke-width="1.0"/>
<path d="M45.00,276.87 L46.00,276.25 L47.00,275.63 L48.00,275.02 L49.00,274.41 L50.00,273.80 L51.00,273.20 L52.00,272.60 L53.00,272.01 L54.00,271.42 L55.00,270.84 L56.00,270.25 L57.00,269.68 L58.00,269.10 L59.00,268.53 L60.00,267.96 L61.00,267.40 L62.00,266.84 L63.00,266.28 L64.00,265.73 L65.00,265.18 L66.00,264.63 L67.00,264.09 L68.00,263.55 L69.00,263.01 L70.00,262.48 L71.00,261.94 L72.00,261.42 L73.00,260.89 L74.00,260.37 L75.00,259.85 L76.00,259.33 L77.00,258.82 L78.00,258.30 L79.00,257.79 L80.00,257.29 L81.00,256.78 L82.00,256.28 L83.00,255.78 L84.00,255.29 L85.00,254.79 L86.00,254.30 L87.00,253.81 L88.00,253.33 L89.00,252.84 L90.00,252.36 L91.00,251.88 L92.00,251.40 L93.00,250.93 L94.00,250.45 L95.00,249.98 L96.00,249.51 L97.00,249.05 L98.00,248.58 L99.00,248.12 L100.00,247.66 L101.00,247.20 L102.00,246.74 L103.00,246.29 L104.00,245.84 L105.00,245.38 L106.00,244.94 L107.00,244.49 L108.00,244.04 L109.00,243.60 L110.00,243.16 L111.00,242.72 L112.00,242.28 L113.00,241.84 L114.00,241.40 L115.00,240.97 L116.00,240.54 L117.00,240.11 L118.00,239.68 L119.00,239.25 L120.00,238.82 L121.00,238.40 L122.00,237.98 L123.00,237.55 L124.00,237.13 L125.00,236.71 L126.00,236.30 L127.00,235.88 L128.00,235.47 L129.00,235.05 L130.00,234.64 L131.00,234.23 L132.00,233.82 L133.00,233.41 L134.00,233.00 L135.00,232.60 L136.00,232.19 L137.00,231.79 L138.00,231.39 L139.00,230.98 L140.00,230.58 L141.00,230.19 L142.00,229.79 L143.00,229.39 L144.00,228.99 L145.00,228.60 L146.00,228.21 L147.00,227.81 L148.00,227.42 L149.00,227.03 L150.00,226.64 L151.00,226.25 L152.00,225.86 L153.00,225.47 L154.00,225.09 L155.00,224.70 L156.00,224.32 L157.00,223.93 L158.00,223.55 L159.00,223.17 L160.00,222.79 L161.00,222.41 L162.00,222.03 L163.00,221.65 L164.00,221.27 L165.00,220.89 L166.00,220.51 L167.00,220.14 L168.00,219.76 L169.00,219.39 L170.00,219.01 L171.00,218.64 L172.00,218.26 L173.00,217.89 L174.00,217.52 L175.00,217.15 L176.00,216.78 L177.00,216.41 L178.00,216.04 L179.00,215.67 L180.00,215.30 L181.00,214.93 L182.00,214.56 L183.00,214.19 L184.00,213.83 L185.00,213.46 L186.00,213.09 L187.00,212.73 L188.00,212.36 L189.00,212.00 L190.00,211.63 L191.00,211.27 L192.00,210.90 L193.00,210.54 L194.00,210.18 L195.00,209.81 L196.00,209.45 L197.00,209.09 L198.00,208.73 L199.00,208.36 L200.00,208.00 L201.00,207.64 L202.00,207.28 L203.00,206.92 L204.00,206.56 L205.00,206.20 L206.00,205.83 L207.00,205.47 L208.00,205.11 L209.00,204.75 L210.00,204.39 L211.00,204.03 L212.00,203.67 L213.00,203.31 L214.00,202.95 L215.00,202.59 L216.00,202.23 L217.00,201.87 L218.00,201.51 L219.00,201.15 L220.00,200.79 L221.00,200.43 L222.00,200.07 L223.00,199.71 L224.00,199.35 L225.00,198.99 L226.00,198.63 L227.00,198.27 L228.00,197.91 L229.00,197.55 L230.00,197.19 L231.00,196.82 L232.00,196.46 L233.00,196.10 L234.00,195.74 L235.00,195.38 L236.00,195.01 L237.00,194.65 L238.00,194.29 L239.00,193.93 L240.00,193.56 L241.00,193.20 L242.00,192.84 L243.00,192.47 L244.00,192.11 L245.00,191.74 L246.00,191.38 L247.00,191.01 L248.00,190.64 L249.00,190.28 L250.00,189.91 L251.00,189.54 L252.00,189.18 L253.00,188.81 L254.00,188.44 L255.00,188.07 L256.00,187.70 L257.00,187.33 L258.00,186.96 L259.00,186.59 L260.00,186.22 L261.00,185.85 L262.00,185.47 L263.00,185.10 L264.00,184.73 L265.00,184.35 L266.00,183.98 L267.00,183.60 L268.00,183.23 L269.00,182.85 L270.00,182.47 L271.00,182.09 L272.00,181.71 L273.00,181.34 L274.00,180.95 L275.00,180.57 L276.00,180.19 L277.00,179.81 L278.00,179.43 L279.00,179.04 L280.00,178.66 L281.00,178.27 L282.00,177.89 L283.00,177.50 L284.00,177.11 L285.00,176.72 L286.00,176.33 L287.00,175.94 L288.00,175.55 L289.00,175.16 L290.00,174.77 L291.00,174.37 L292.00,173.98 L293.00,173.58 L294.00,173.19 L295.00,172.79 L296.00,172.39 L297.00,171.99 L298.00,171.59 L299.00,171.19 L300.00,170.79 L301.00,170.38 L302.00,169.98 L303.00,169.57 L304.00,169.17 L305.00,168.76 L306.00,168.35 L307.00,167.94 L308.00,167.53 L309.00,167.12 L310.00,166.70 L311.00,166.29 L312.00,165.87 L313.00,165.46 L314.00,165.04 L315.00,164.62 L316.00,164.20 L317.00,163.78 L318.00,163.36 L319.00,162.93 L320.00,162.51 L321.00,162.08 L322.00,161.65 L323.00,161.23 L324.00,160.80 L325.00,160.36 L326.00,159.93 L327.00,159.50 L328.00,159.06 L329.00,158.63 L330.00,158.19 L331.00,157.75 L332.00,157.31 L333.00,156.87 L334.00,156.42 L335.00,155.98 L336.00,155.53 L337.00,155.08 L338.00,154.63 L339.00,154.18 L340.00,153.73 L341.00,153.28 L342.00,152.82 L343.00,152.37 L344.00,151.91 L345.00,151.45 L346.00,150.99 L347.00,150.53 L348.00,150.06 L349.00,149.60 L350.00,149.13 L351.00,148.66 L352.00,148.19 L353.00,147.72 L354.00,147.25 L355.00,146.77 L356.00,146.30 L357.00,145.82 L358.00,145.34 L359.00,144.86 L360.00,144.37 L361.00,143.89 L362.00,143.40 L363.00,142.92 L364.00,142.43 L365.00,141.93 L366.00,141.44 L367.00,140.95 L368.00,140.45 L369.00,139.95 L370.00,139.45 L371.00,138.95 L372.00,138.45 L373.00,137.94 L374.00,137.44 L375.00,136.93 L376.00,136.42 L377.00,135.91 L378.00,135.39 L379.00,134.88 L380.00,134.36 L381.00,133.84 L382.00,133.32 L383.00,132.80 L384.00,132.28 L385.00,131.75 L386.00,131.22 L387.00,130.69 L388.00,130.16 L389.00,129.63 L390.00,129.09 L391.00,128.55 L392.00,128.02 L393.00,127.48 L394.00,126.93 L395.00,126.39 L396.00,125.84 L397.00,125.29 L398.00,124.74 L399.00,124.19 L400.00,123.64 L401.00,123.08 L402.00,122.52 L403.00,121.96 L404.00,121.40 L405.00,120.84 L406.00,120.27 L407.00,119.71 L408.00,119.14 L409.00,118.57 L410.00,117.99 L411.00,117.42 L412.00,116.84 L413.00,116.26 L414.00,115.68 L415.00,115.10 L416.00,114.52 L417.00,113.93 L418.00,113.34 L419.00,112.75 L420.00,112.16 L421.00,111.57 L422.00,110.97 L423.00,110.37 L424.00,109.77 L425.00,109.17 L426.00,108.57 L427.00,107.96 L428.00,107.35 L429.00,106.74 L430.00,106.13" stroke="#ff0000" stroke-width="1.0"/>
<path d="M45.00,280.35 L46.00,279.74 L47.00,279.14 L48.00,278.54 L49.00,277.95 L50.00,277.36 L51.00,276.78 L52.00,276.20 L53.00,275.62 L54.00,275.05 L55.00,274.48 L56.00,273.92 L57.00,273.36 L58.00,272.81 L59.00,272.25 L60.00,271.71 L61.00,271.16 L62.00,270.62 L63.00,270.09 L64.00,269.55 L65.00,269.02 L66.00,268.50 L67.00,267.98 L68.00,267.46 L69.00,266.94 L70.00,266.43 L71.00,265.92 L72.00,265.41 L73.00,264.91 L74.00,264.41 L75.00,263.92 L76.00,263.42 L77.00,262.93 L78.00,262.45 L79.00,261.96 L80.00,261.48 L81.00,261.00 L82.00,260.53 L83.00,260.05 L84.00,259.58 L85.00,259.12 L86.00,258.65 L87.00,258.19 L88.00,257.73 L89.00,257.28 L90.00,256.82 L91.00,256.37 L92.00,255.92 L93.00,255.48 L94.00,255.03 L95.00,254.59 L96.00,254.15 L97.00,253.72 L98.00,253.28 L99.00,252.85 L100.00,252.42 L101.00,252.00 L102.00,251.57 L103.00,251.15 L104.00,250.73 L105.00,250.31 L106.00,249.90 L107.00,249.48 L108.00,249.07 L109.00,248.66 L110.00,248.25 L111.00,247.85 L112.00,247.45 L113.00,247.04 L114.00,246.65 L115.00,246.25 L116.00,245.85 L117.00,245.46 L118.00,245.07 L119.00,244.68 L120.00,244.29 L121.00,243.91 L122.00,243.52 L123.00,243.14 L124.00,242.76 L125.00,242.38 L126.00,242.01 L127.00,241.63 L128.00,241.26 L129.00,240.89 L130.00,240.52 L131.00,240.15 L132.00,239.79 L133.00,239.42 L134.00,239.06 L135.00,238.70 L136.00,238.34 L137.00,237.98 L138.00,237.63 L139.00,237.27 L140.00,236.92 L141.00,236.57 L142.00,236.22 L143.00,235.87 L144.00,235.52 L145.00,235.18 L146.00,234.83 L147.00,234.49 L148.00,234.15 L149.00,233.81 L150.00,233.47 L151.00,233.14 L152.00,232.80 L153.00,232.47 L154.00,232.14 L155.00,231.81 L156.00,231.48 L157.00,231.15 L158.00,230.82 L159.00,230.50 L160.00,230.17 L161.00,229.85 L162.00,229.53 L163.00,229.21 L164.00,228.89 L165.00,228.57 L166.00,228.26 L167.00,227.94 L168.00,227.63 L169.00,227.31 L170.00,227.00 L171.00,226.69 L172.00,226.38 L173.00,226.08 L174.00,225.77 L175.00,225.46 L176.00,225.16 L177.00,224.86 L178.00,224.55 L179.00,224.25 L180.00,223.95 L181.00,223.66 L182.00,223.36 L183.00,223.06 L184.00,222.77 L185.00,222.47 L186.00,222.18 L187.00,221.89 L188.00,221.60 L189.00,221.31 L190.00,221.02 L191.00,220.73 L192.00,220.44 L193.00,220.16 L194.00,219.87 L195.00,219.59 L196.00,219.31 L197.00,219.03 L198.00,218.75 L199.00,218.47 L200.00,218.19 L201.00,217.91 L202.00,217.63 L203.00,217.36 L204.00,217.08 L205.00,216.81 L206.00,216.54 L207.00,216.26 L208.00,215.99 L209.00,215.72 L210.00,215.45 L211.00,215.19 L212.00,214.92 L213.00,214.65 L214.00,214.39 L215.00,214.12 L216.00,213.86 L217.00,213.60 L218.00,213.33 L219.00,213.07 L220.00,212.81 L221.00,212.55 L222.00,212.29 L223.00,212.04 L224.00,211.78 L225.00,211.52 L226.00,211.27 L227.00,211.01 L228.00,210.76 L229.00,210.51 L230.00,210.25 L231.00,210.00 L232.00,209.75 L233.00,209.50 L234.00,209.25 L235.00,209.01 L236.00,208.76 L237.00,208.51 L238.00,208.27 L239.00,208.02 L240.00,207.78 L241.00,207.53 L242.00,207.29 L243.00,207.05 L244.00,206.81 L245.00,206.57 L246.00,206.33 L247.00,206.09 L248.00,205.85 L249.00,205.61 L250.00,205.38 L251.00,205.14 L252.00,204.90 L253.00,204.67 L254.00,204.43 L255.00,204.20 L256.00,203.97 L257.00,203.74 L258.00,203.50 L259.00,203.27 L260.00,203.04 L261.00,202.81 L262.00,202.58 L263.00,202.36 L264.00,202.13 L265.00,201.90 L266.00,201.68 L267.00,201.45 L268.00,201.23 L269.00,201.00 L270.00,200.78 L271.00,200.55 L272.00,200.33 L273.00,200.11 L274.00,199.89 L275.00,199.67 L276.00,199.45 L277.00,199.23 L278.00,199.01 L279.00,198.79 L280.00,198.58 L281.00,198.36 L282.00,198.14 L283.00,197.93 L284.00,197.71 L285.00,197.50 L286.00,197.28 L287.00,197.07 L288.00,196.86 L289.00,196.64 L290.00,196.43 L291.00,196.22 L292.00,196.01 L293.00,195.80 L294.00,195.59 L295.00,195.38 L296.00,195.17 L297.00,194.97 L298.00,194.76 L299.00,194.55 L300.00,194.35 L301.00,194.14 L302.00,193.93 L303.00,193.73 L304.00,193.53 L305.00,193.32 L306.00,193.12 L307.00,192.92 L308.00,192.71 L309.00,192.51 L310.00,192.31 L311.00,192.11 L312.00,191.91 L313.00,191.71 L314.00,191.51 L315.00,191.32 L316.00,191.12 L317.00,190.92 L318.00,190.72 L319.00,190.53 L320.00,190.33 L321.00,190.13 L322.00,189.94 L323.00,189.74 L324.00,189.55 L325.00,189.36 L326.00,189.16 L327.00,188.97 L328.00,188.78 L329.00,188.59 L330.00,188.40 L331.00,188.20 L332.00,188.01 L333.00,187.82 L334.00,187.64 L335.00,187.45 L336.00,187.26 L337.00,187.07 L338.00,186.88 L339.00,186.69 L340.00,186.51 L341.00,186.32 L342.00,186.14 L343.00,185.95 L344.00,185.76 L345.00,185.58 L346.00,185.40 L347.00,185.21 L348.00,185.03 L349.00,184.85 L350.00,184.66 L351.00,184.48 L352.00,184.30 L353.00,184.12 L354.00,183.94 L355.00,183.76 L356.00,183.58 L357.00,183.40 L358.00,183.22 L359.00,183.04 L360.00,182.86 L361.00,182.68 L362.00,182.51 L363.00,182.33 L364.00,182.15 L365.00,181.97 L366.00,181.80 L367.00,181.62 L368.00,181.45 L369.00,181.27 L370.00,181.10 L371.00,180.92 L372.00,180.75 L373.00,180.58 L374.00,180.40 L375.00,180.23 L376.00,180.06 L377.00,179.89 L378.00,179.72 L379.00,179.55 L380.00,179.37 L381.00,179.20 L382.00,179.03 L383.00,178.86 L384.00,178.70 L385.00,178.53 L386.00,178.36 L387.00,178.19 L388.00,178.02 L389.00,177.85 L390.00,177.69 L391.00,177.52 L392.00,177.35 L393.00,177.19 L394.00,177.02 L395.00,176.86 L396.00,176.69 L397.00,176.53 L398.00,176.36 L399.00,176.20 L400.00,176.03 L401.00,175.87 L402.00,175.71 L403.00,175.55 L404.00,175.38 L405.00,175.22 L406.00,175.06 L407.00,174.90 L408.00,174.74 L409.00,174.58 L410.00,174.42 L411.00,174.26 L412.00,174.10 L413.00,173.94 L414.00,173.78 L415.00,173.62 L416.00,173.46 L417.00,173.30 L418.00,173.14 L419.00,172.99 L420.00,172.83 L421.00,172.67 L422.00,172.52 L423.00,172.36 L424.00,172.20 L425.00,172.05 L426.00,171.89 L427.00,171.74 L428.00,171.58 L429.00,171.43 L430.00,171.27" stroke="#800080" stroke-width="1.0"/>
</g>
<rect x="38.5" y="33.5" width="399.2" height="249.8" fill="none" stroke="#7c7c7c" stroke-width="1"/>
<path d="M41.60,283.30 v-4.80 M41.60,33.50 v4.80 M80.52,283.30 v-2.50 M80.52,33.50 v2.50 M103.29,283.30 v-2.50 M103.29,33.50 v2.50 M119.45,283.30 v-2.50 M119.45,33.50 v2.50 M131.98,283.30 v-4.80 M131.98,33.50 v4.80 M142.21,283.30 v-2.50 M142.21,33.50 v2.50 M150.87,283.30 v-2.50 M150.87,33.50 v2.50 M158.37,283.30 v-2.50 M158.37,33.50 v2.50 M164.98,283.30 v-2.50 M164.98,33.50 v2.50 M170.90,283.30 v-4.80 M170.90,33.50 v4.80 M209.82,283.30 v-2.50 M209.82,33.50 v2.50 M232.59,283.30 v-2.50 M232.59,33.50 v2.50 M248.75,283.30 v-2.50 M248.75,33.50 v2.50 M261.28,283.30 v-4.80 M261.28,33.50 v4.80 M271.51,283.30 v-2.50 M271.51,33.50 v2.50 M280.17,283.30 v-2.50 M280.17,33.50 v2.50 M287.67,283.30 v-2.50 M287.67,33.50 v2.50 M294.28,283.30 v-2.50 M294.28,33.50 v2.50 M300.20,283.30 v-4.80 M300.20,33.50 v4.80 M339.12,283.30 v-2.50 M339.12,33.50 v2.50 M361.89,283.30 v-2.50 M361.89,33.50 v2.50 M378.05,283.30 v-2.50 M378.05,33.50 v2.50 M390.58,283.30 v-4.80 M390.58,33.50 v4.80 M400.81,283.30 v-2.50 M400.81,33.50 v2.50 M409.47,283.30 v-2.50 M409.47,33.50 v2.50 M416.97,283.30 v-2.50 M416.97,33.50 v2.50 M423.58,283.30 v-2.50 M423.58,33.50 v2.50 M429.50,283.30 v-4.80 M429.50,33.50 v4.80 M38.50,260.50 h4.80 M437.70,260.50 h-4.80 M38.50,228.31 h2.50 M437.70,228.31 h-2.50 M38.50,205.47 h2.50 M437.70,205.47 h-2.50 M38.50,187.76 h4.80 M437.70,187.76 h-4.80 M38.50,173.28 h2.50 M437.70,173.28 h-2.50 M38.50,161.04 h2.50 M437.70,161.04 h-2.50 M38.50,150.44 h2.50 M437.70,150.44 h-2.50 M38.50,141.09 h2.50 M437.70,141.09 h-2.50 M38.50,132.73 h4.80 M437.70,132.73 h-4.80 M38.50,77.70 h4.80 M437.70,77.70 h-4.80 M38.50,45.51 h2.50 M437.70,45.51 h-2.50" stroke="#707070" stroke-width="0.8" fill="none"/>
<g font-size="12px"><text x="41.90" y="297" text-anchor="middle">10</text><text x="132.28" y="297" text-anchor="middle">50</text><text x="171.20" y="297" text-anchor="middle">100</text><text x="261.58" y="297" text-anchor="middle">500</text><text x="300.50" y="297" text-anchor="middle">1000</text><text x="390.88" y="297" text-anchor="middle">5000</text><text x="35.3" y="264.60" text-anchor="end">2</text><text x="35.3" y="191.86" text-anchor="end">5</text><text x="35.3" y="136.83" text-anchor="end">10</text><text x="35.3" y="81.80" text-anchor="end">20</text>
<text x="413.4" y="299.6">1</text><text x="420.9" y="299.9" font-size="13px">×</text><text x="429.6" y="299.6">10</text><text x="441.2" y="294.8" font-size="8.5px">4</text>
</g>
<text transform="translate(9.6,156.2) rotate(-90)" text-anchor="middle" font-size="11.25px">Total number of created bogolons</text>
<g id="xlabel" font-size="20px">
<text x="221.8" y="325.0" font-style="italic">c</text>
<text x="229.8" y="328.2" font-style="italic" font-size="14px">s</text>
<text x="235.2" y="325.0">t</text>
<text x="240.6" y="325.0">/</text>
<text transform="translate(246.2,325) scale(1.1,0.83)" font-style="italic">ξ</text>
</g>
<g id="title">
<text x="151.4" y="14.6" font-size="11px">v</text><text x="156.4" y="16.5" font-size="13.5px">/</text><text x="160.7" y="14.6" font-size="11px" font-style="italic">c</text>
<text x="165.4" y="17.2" font-size="8.5px" font-style="italic">s</text>
<text x="169.9" y="14.7" font-size="18px">=</text>
<text x="180.8" y="14.7" font-size="18px">0.99(</text>
<circle cx="222.2" cy="9.6" r="3.1" fill="none" stroke="#0000ff" stroke-width="0.9"/>
<text x="226.8" y="14.7" font-size="18px">),1(</text>
<path d="M253.4,14.0 L262.3,14.0 L257.85,6.4 Z" fill="none" stroke="#800080" stroke-width="0.9"/>
<text x="263.2" y="14.7" font-size="18px">),1.01(</text>
<rect x="312" y="7.1" width="6.2" height="5.9" fill="none" stroke="#ff0000" stroke-width="1.2"/>
<text x="319.5" y="14.7" font-size="18px">)</text>
</g>
</svg>
</body></html>
